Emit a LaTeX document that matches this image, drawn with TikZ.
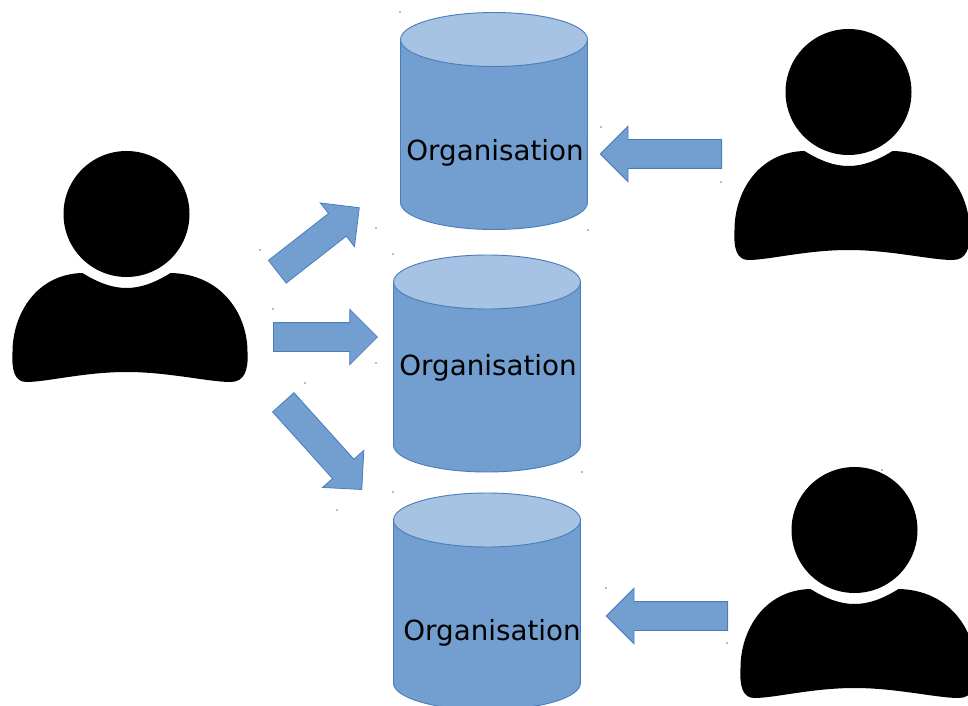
\documentclass[tikz,border=0pt]{standalone}
\usepackage{fontspec}
\setmainfont{DejaVu Sans}
\usepackage{xcolor}
\usetikzlibrary{shapes.geometric}
\usetikzlibrary{shapes.arrows}
\definecolor{orgblue}{RGB}{114,159,207}
\definecolor{orglight}{RGB}{166,195,227}
\definecolor{orgline}{RGB}{74,126,187}

\newcommand{\personicon}[3]{
  \node[head] (#1head) at (#2,#3) {};
  \fill[shift={(#2,#3)}] (-44,59) .. controls (-28,69) and (-14,74) .. (0,74)
    .. controls (14,74) and (28,69) .. (44,59)
    .. controls (95,60) and (121,100) .. (121,138)
    .. controls (122,156) and (118,168) .. (104,168)
    .. controls (82,168) and (42,158) .. (0,158)
    .. controls (-42,158) and (-80,168) .. (-100,168)
    .. controls (-112,168) and (-115,156) .. (-114,138)
    .. controls (-114,100) and (-90,60) .. (-44,59) -- cycle;
}
\newcommand{\orgcylinder}[3]{
  \filldraw[orgpart, fill=orgblue, shift={(#2,#3)}] (-93.5,-81.5)
    -- (-93.5,81.5) arc[start angle=180, end angle=360, x radius=70.1pt, y radius=20.25pt]
    -- (93.5,-81.5) -- cycle;
  \node[orgpart, fill=orglight, ellipse part] (#1) at (#2,#3-81.5) {};
}

\begin{document}
\begin{tikzpicture}[x=0.75pt,y=-0.75pt]

\tikzset{head/.style={
    circle, fill=black, minimum size=94.5pt, inner sep=0pt
  },
  orgpart/.style={
    draw=orgline, line width=0.7pt
  },
  ellipse part/.style={
    ellipse, minimum width=140.2pt, minimum height=40.5pt, inner sep=0pt
  },
  orgtext/.style={
    font=\fontsize{20.8pt}{24pt}\selectfont, inner sep=0pt
  },
  blockarrow/.style={
    single arrow, draw=orgline, fill=orgblue, line width=0.6pt, anchor=tail,
    minimum width=41pt, single arrow head extend=10pt, inner sep=0pt,
    minimum height=#1, execute at begin node=\rule{0pt}{21pt}
  }, blockarrow/.default=78pt,
  speck/.style={
    circle, fill=orgline, minimum size=1.4pt, inner sep=0pt
  }
}

\useasboundingbox (0,0) rectangle (968,706);

\personicon{left}{126.5}{214}
\personicon{upper}{848.5}{92}
\personicon{lower}{854.5}{530}

\orgcylinder{orgtop}{494}{121}
\orgcylinder{orgmid}{487}{363.5}
\orgcylinder{orgbot}{487}{601.5}
\node[orgtext] (labeltop) at (495,152.5) {Organisation};
\node[orgtext] (labelmid) at (488,367.5) {Organisation};
\node[orgtext] (labelbot) at (492,632.5) {Organisation};

\node[blockarrow, rotate=38] (arrowup) at (277,272) {};
\node[blockarrow] (arrowmid) at (273,337) {};
\node[blockarrow=88pt, rotate=-48] (arrowdown) at (283,402) {};
\node[blockarrow=91pt, rotate=180] (arrowtop) at (722,154) {};
\node[blockarrow=91pt, rotate=180] (arrowbot) at (728,616) {};

\foreach \x/\y in {260/250, 273/309, 305/383, 376/228, 393/254, 376/363,
    393/492, 337/510, 400/12, 601/127, 721/182, 588/230, 582/472, 606/588,
    727/643, 882/470} {
  \node[speck] at (\x,\y) {};
}
\end{tikzpicture}
\end{document}
